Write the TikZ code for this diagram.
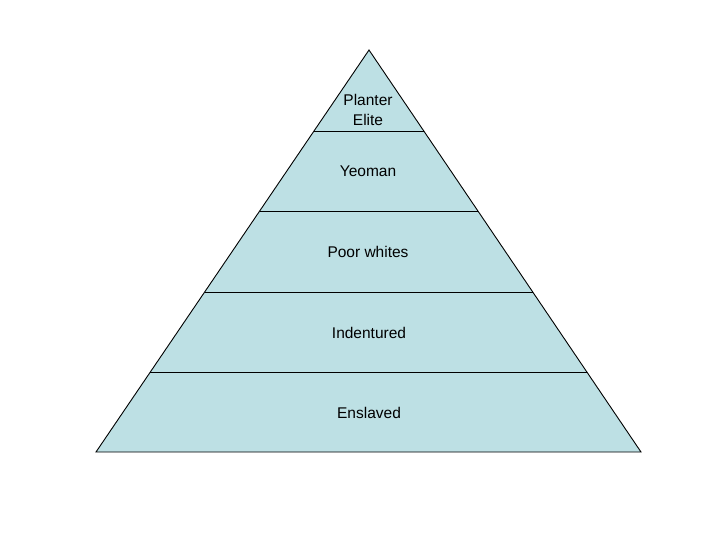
\documentclass[tikz,border=0pt]{standalone}
\usepackage{fontspec}
\setmainfont{Liberation Sans}
\usetikzlibrary{calc}
\definecolor{pyr}{HTML}{BDE0E4}
\begin{document}
\begin{tikzpicture}[x=1pt,y=-1pt,
  lbl/.style={font=\fontsize{15.5}{20}\selectfont, align=center, inner sep=0pt}]
\useasboundingbox (0,0) rectangle (720,540);
\coordinate (apex) at (369,50);
\coordinate (bl) at (96,452);
\coordinate (br) at (641,452);
\fill[pyr] (apex) -- (br) -- (bl) -- cycle;
% level lines
\foreach \y/\n in {131/a,211/b,292/c,372/d}{
  \pgfmathsetmacro{\t}{(\y-50)/402}
  \coordinate (L\n) at ($(apex)!\t!(bl)$);
  \coordinate (R\n) at ($(apex)!\t!(br)$);
}
\draw[line width=0.9pt] (La) -- (Ra);
\draw[line width=0.9pt] (Lb) -- (Rb);
\draw[line width=0.9pt] (Lc) -- (Rc);
\draw[line width=0.9pt] (Ld) -- (Rd);
\draw[line width=0.9pt, line join=miter] (apex) -- (br) -- (bl) -- cycle;
\node[lbl] (planter) at (368,110) {Planter\\Elite};
\node[lbl] (yeoman) at (368,171) {Yeoman};
\node[lbl] (poor) at (368,252) {Poor whites};
\node[lbl] (indent) at (369,333) {Indentured};
\node[lbl] (ensl) at (369,413) {Enslaved};
\end{tikzpicture}
\end{document}
